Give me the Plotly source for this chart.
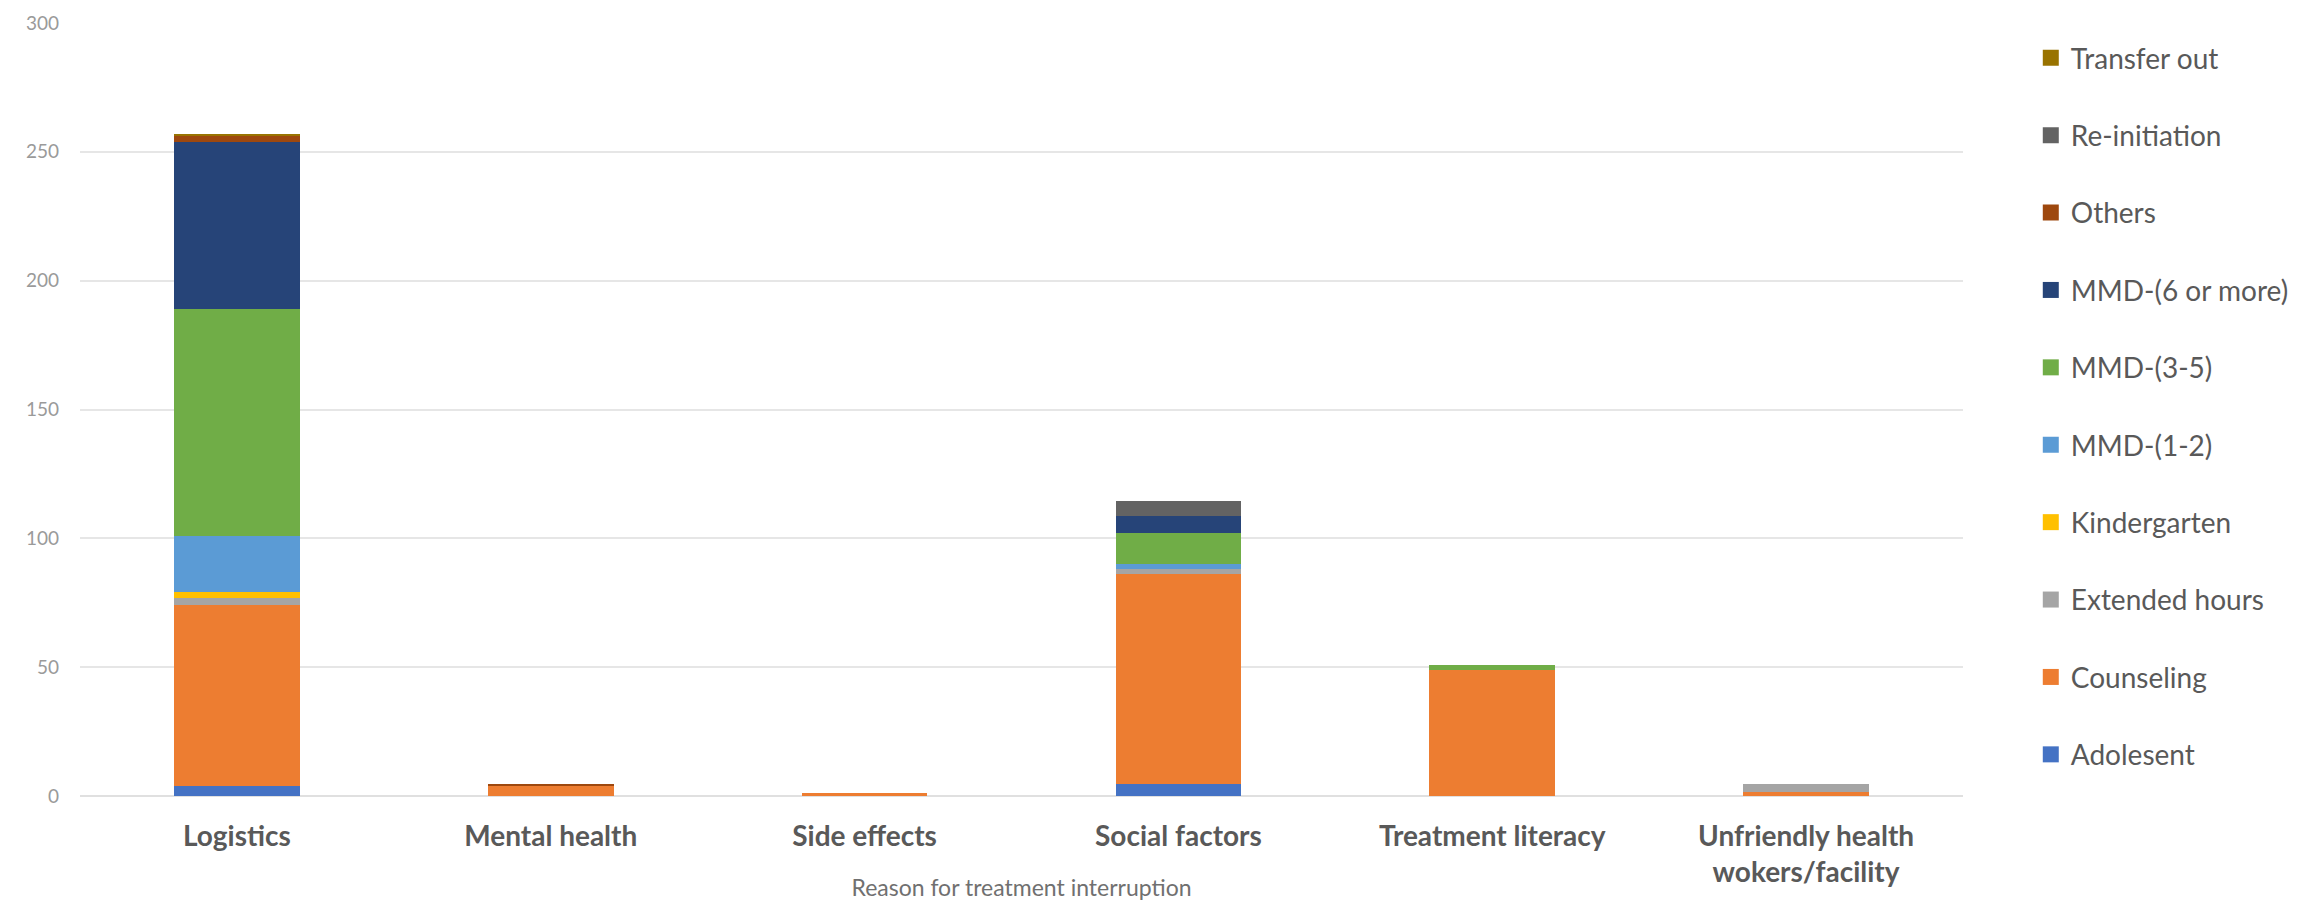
import plotly.graph_objects as go

categories = ["Logistics", "Mental health", "Side effects", "Social factors",
              "Treatment literacy", "Unfriendly health<br>wokers/facility"]
series_names = ["Adolesent", "Counseling", "Extended hours", "Kindergarten",
                "MMD-(1-2)", "MMD-(3-5)", "MMD-(6 or more)", "Others",
                "Re-initiation", "Transfer out"]
adolesent = [4, 0, 0, 4.5, 0, 0]
counseling = [70, 4, 1, 81.5, 49, 1.5]
extended_hours = [3, 0, 0, 2, 0, 3]
kindergarten = [2, 0, 0, 0, 0, 0]
mmd_1_2 = [22, 0, 0, 2, 0, 0]
mmd_3_5 = [88, 0, 0, 12, 2, 0]
mmd_6_more = [65, 0, 0, 6.5, 0, 0]
others = [2, 0.5, 0, 0, 0, 0]
re_initiation = [0, 0, 0, 6, 0, 0]
transfer_out = [1, 0, 0, 0, 0, 0]
y_ticks = [0, 50, 100, 150, 200, 250, 300]

values = [adolesent, counseling, extended_hours, kindergarten, mmd_1_2,
          mmd_3_5, mmd_6_more, others, re_initiation, transfer_out]
colors = ["#4472C4", "#ED7D31", "#A5A5A5", "#FFC000", "#5B9BD5",
          "#70AD47", "#264478", "#9E480E", "#636363", "#997300"]

fig = go.Figure()
for name, vals, col in zip(series_names, values, colors):
    fig.add_trace(go.Bar(x=categories, y=vals, name=name, marker_color=col,
                         marker_line_width=0, showlegend=False))
# legend entries (square swatches like the original), top-to-bottom reversed
for name, col in reversed(list(zip(series_names, colors))):
    fig.add_trace(go.Scatter(x=[None], y=[None], mode="markers", name=name,
                             marker=dict(symbol="square", size=19, color=col),
                             legendgroup=name))

fig.update_layout(
    width=2306, height=901,
    barmode="stack", bargap=0.6,
    plot_bgcolor="white", paper_bgcolor="white",
    margin=dict(l=80, r=343, t=23, b=105),
    font=dict(family="Lato, Carlito, sans-serif", color="#595959"),
    legend=dict(x=1.036, xanchor="left", y=0.987, yanchor="top",
                traceorder="grouped", tracegroupgap=38,
                font=dict(size=28, color="#595959")),
    xaxis=dict(showgrid=False, showline=False, ticks="", automargin=False,
               tickfont=dict(size=28, color="#595959", family="Lato, sans-serif", weight="bold"),
               ticklabelstandoff=21,
               title=dict(text="Reason for treatment interruption",
                          font=dict(size=23, color="#707070"), standoff=2)),
    yaxis=dict(range=[0, 300], tickvals=y_ticks, showgrid=True, automargin=False,
               gridcolor="#E6E6E6", gridwidth=2, zeroline=True,
               zerolinecolor="#E0E0E0", zerolinewidth=2, showline=False,
               tickfont=dict(size=19, color="#9A9A9A"), ticklabelstandoff=20),
)

fig.write_html("out.html")
